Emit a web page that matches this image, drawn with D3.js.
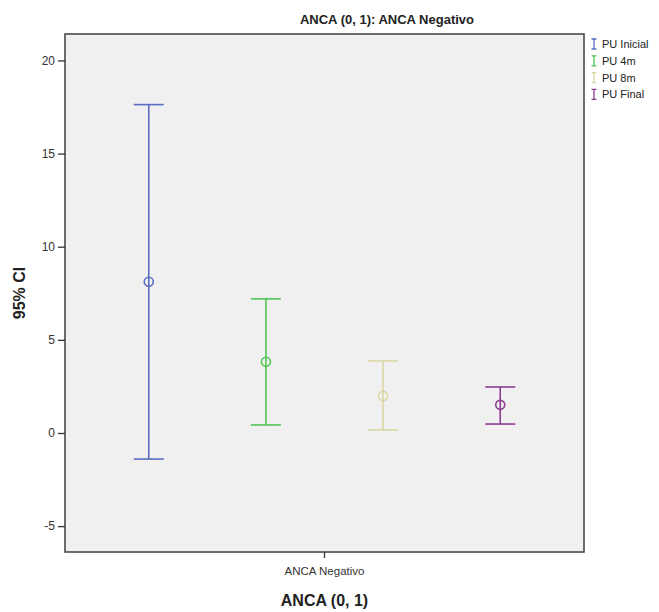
<!DOCTYPE html>
<html>
<head>
<meta charset="utf-8">
<script src="https://cdn.jsdelivr.net/npm/d3@7"></script>
<style>
  body { margin: 0; background: #fff; }
  text { font-family: Arial, "Liberation Sans", sans-serif; }
</style>
</head>
<body>
<svg id="chart"></svg>
<script>
// data
const categories = ["ANCA Negativo"];
const series = ["PU Inicial", "PU 4m", "PU 8m", "PU Final"];
const means = [8.12, 3.82, 1.99, 1.51];
const lower = [-1.40, 0.43, 0.16, 0.48];
const upper = [17.63, 7.20, 3.87, 2.47];
const yTicks = [-5, 0, 5, 10, 15, 20];
const colors = ["#5a6dc2", "#52c452", "#dad7a6", "#8c3d91"];

const width = 659, height = 612;
const margin = { left: 65, right: 75, top: 34, bottom: 60 };

const svg = d3.select("#chart").attr("width", width).attr("height", height);

const x = d3.scaleBand()
  .domain(categories)
  .range([margin.left, width - margin.right])
  .padding(0);
const xs = d3.scalePoint()
  .domain(series)
  .range([0, x.bandwidth()])
  .padding(0.715);
const y = d3.scaleLinear()
  .domain([-6.39, 21.42])
  .range([height - margin.bottom, margin.top]);

const rows = series.map((s, i) => ({
  cat: categories[0], s, mean: means[i], lo: lower[i], hi: upper[i], c: colors[i]
}));

// plot background
svg.append("rect")
  .attr("x", margin.left).attr("y", margin.top)
  .attr("width", width - margin.left - margin.right)
  .attr("height", height - margin.top - margin.bottom)
  .attr("fill", "#f0f0f0");

// error bars
const capW = 15;
const g = svg.append("g").selectAll("g").data(rows).join("g")
  .attr("transform", d => `translate(${x(d.cat) + xs(d.s)},0)`)
  .attr("stroke", d => d.c)
  .attr("stroke-width", 1.6)
  .attr("fill", "none");
g.append("line").attr("y1", d => y(d.lo)).attr("y2", d => y(d.hi));
g.append("line").attr("x1", -capW).attr("x2", capW).attr("y1", d => y(d.hi)).attr("y2", d => y(d.hi));
g.append("line").attr("x1", -capW).attr("x2", capW).attr("y1", d => y(d.lo)).attr("y2", d => y(d.lo));
g.append("circle").attr("cy", d => y(d.mean)).attr("r", 4.5);

// frame
svg.append("rect")
  .attr("x", margin.left).attr("y", margin.top)
  .attr("width", width - margin.left - margin.right)
  .attr("height", height - margin.top - margin.bottom)
  .attr("fill", "none").attr("stroke", "#4a4a4a").attr("stroke-width", 1.6);

// y axis
const yAxis = svg.append("g")
  .attr("transform", `translate(${margin.left},0)`)
  .call(d3.axisLeft(y).tickValues(yTicks).tickFormat(d => String(d)).tickSize(7).tickPadding(3));
yAxis.select(".domain").remove();
yAxis.selectAll(".tick line").attr("stroke", "#333").attr("stroke-width", 1.3);
yAxis.selectAll(".tick text").attr("font-size", 12).attr("fill", "#333")
  .attr("font-family", "Arial, 'Liberation Sans', sans-serif");

// x axis
const xAxis = svg.append("g")
  .attr("transform", `translate(0,${height - margin.bottom})`)
  .call(d3.axisBottom(x).tickSize(6).tickPadding(9));
xAxis.select(".domain").remove();
xAxis.selectAll(".tick line").attr("stroke", "#333").attr("stroke-width", 1.3);
xAxis.selectAll(".tick text").attr("font-size", 11.5).attr("fill", "#333")
  .attr("font-family", "Arial, 'Liberation Sans', sans-serif");

// titles
svg.append("text")
  .attr("x", 387).attr("y", 24)
  .attr("text-anchor", "middle")
  .attr("font-size", 13).attr("font-weight", "bold").attr("fill", "#222")
  .text("ANCA (0, 1): ANCA Negativo");

svg.append("text")
  .attr("x", (margin.left + width - margin.right) / 2).attr("y", 606)
  .attr("text-anchor", "middle")
  .attr("font-size", 16).attr("font-weight", "bold").attr("fill", "#222")
  .text("ANCA (0, 1)");

svg.append("text")
  .attr("transform", `translate(25,${(margin.top + height - margin.bottom) / 2}) rotate(-90)`)
  .attr("text-anchor", "middle")
  .attr("font-size", 16).attr("font-weight", "bold").attr("fill", "#222")
  .text("95% CI");

// legend
const leg = svg.append("g").attr("transform", "translate(594,44)")
  .selectAll("g").data(rows).join("g")
  .attr("transform", (d, i) => `translate(0,${i * 16.8})`);
leg.append("path")
  .attr("d", "M-2.5,-5H2.5M0,-5V5M-2.5,5H2.5")
  .attr("stroke", d => d.c).attr("stroke-width", 1.3).attr("fill", "none");
leg.append("text")
  .attr("x", 8).attr("y", 4)
  .attr("font-size", 11).attr("fill", "#222")
  .text(d => d.s);
</script>
</body>
</html>
